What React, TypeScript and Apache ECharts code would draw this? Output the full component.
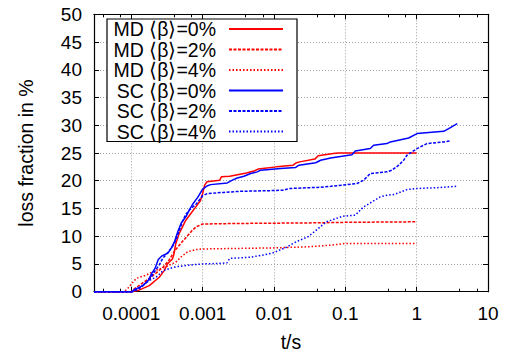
import React, { useEffect, useRef } from "react";
import * as echarts from "echarts";

// ---- data (t in seconds, loss fraction in %) ----
const seriesNames = [
  "MD \u27E8\u03B2\u27E9=0%",
  "MD \u27E8\u03B2\u27E9=2%",
  "MD \u27E8\u03B2\u27E9=4%",
  "SC \u27E8\u03B2\u27E9=0%",
  "SC \u27E8\u03B2\u27E9=2%",
  "SC \u27E8\u03B2\u27E9=4%",
];

const xTickValues = [1e-4, 1e-3, 1e-2, 1e-1, 1, 10];

const md0T = [3e-5, 1.0e-4, 1.236e-4, 1.79e-4, 2.466e-4, 2.89e-4, 3.21e-4, 3.77e-4, 3.97e-4, 4.19e-4, 4.66e-4, 5.18e-4, 5.75e-4, 6.75e-4, 7.93e-4, 9.29e-4, 1.0e-3, 1.067e-3, 1.148e-3, 1.734e-3, 1.832e-3, 2.4e-3, 4.11e-3, 5.37e-3, 5.98e-3, 1.084e-2, 1.853e-2, 2.07e-2, 2.3e-2, 3.74e-2, 4.16e-2, 6.76e-2, 7.94e-2, 1];
const md0V = [0, 0, 0.2, 1.1, 2.6, 3.8, 5.0, 5.9, 6.8, 8.6, 10.4, 11.6, 12.8, 14.0, 15.2, 16.4, 17.7, 19.2, 19.8, 20.1, 20.7, 20.8, 21.4, 21.8, 22.1, 22.5, 22.8, 23.25, 23.4, 23.9, 24.5, 24.9, 25.0, 25.0];

const md2T = [3e-5, 1e-4, 1.122e-4, 1.413e-4, 1.778e-4, 2.239e-4, 2.818e-4, 3.388e-4, 4.074e-4, 5.012e-4, 5.888e-4, 7.079e-4, 8.128e-4, 1e-3, 3.162e-3, 3.162e-2, 0.1, 1];
const md2V = [0, 0, 0.6, 1.5, 2.4, 3.4, 4.5, 5.7, 7.4, 8.8, 9.8, 11.0, 11.7, 12.2, 12.3, 12.4, 12.5, 12.6];

const md4T = [3e-5, 7.943e-5, 8.913e-5, 1.175e-4, 1.622e-4, 2.239e-4, 3.09e-4, 4.266e-4, 5.012e-4, 6.166e-4, 8.128e-4, 1e-3, 3.162e-3, 1e-2, 3.162e-2, 6.31e-2, 8.913e-2, 0.1, 1];
const md4V = [0, 0, 0.6, 2.4, 3.0, 3.9, 4.5, 5.4, 6.3, 7.2, 7.6, 7.7, 7.8, 7.9, 8.1, 8.4, 8.6, 8.7, 8.7];

const sc0T = [3e-5, 1.047e-4, 1.076e-4, 1.262e-4, 1.483e-4, 1.738e-4, 1.932e-4, 2.148e-4, 2.388e-4, 2.655e-4, 3.281e-4, 3.648e-4, 4.055e-4, 4.508e-4, 5.012e-4, 5.888e-4, 6.546e-4, 7.278e-4, 8.531e-4, 1e-3, 1.172e-3, 1.294e-3, 2.218e-3, 2.606e-3, 3.062e-3, 3.793e-3, 4.71e-3, 5.834e-3, 6.501e-3, 1.239e-2, 2.014e-2, 2.239e-2, 3.837e-2, 4.508e-2, 6.223e-2, 0.1239, 0.138, 0.2239, 0.2495, 0.3837, 0.4276, 0.7727, 1.012, 2.393, 2.812, 3.7];
const sc0V = [0, 0, 0.3, 0.73, 1.2, 2.1, 3.3, 4.2, 5.8, 6.4, 7.0, 7.9, 9.1, 10.9, 12.4, 13.6, 14.8, 15.8, 17.0, 18.5, 19.1, 19.3, 19.6, 20.1, 20.5, 20.8, 21.3, 21.6, 21.9, 22.2, 22.4, 22.8, 23.25, 23.7, 24.1, 24.7, 25.36, 25.8, 26.4, 26.7, 27.0, 27.7, 28.5, 28.9, 29.4, 30.3];

const sc2T = [3e-5, 1e-4, 1.259e-4, 1.585e-4, 1.778e-4, 2.089e-4, 2.455e-4, 2.754e-4, 3.236e-4, 3.802e-4, 4.266e-4, 4.677e-4, 5.248e-4, 5.754e-4, 6.607e-4, 8.128e-4, 1e-3, 1.175e-3, 1.995e-3, 3.412e-3, 8.072e-3, 1.38e-2, 1.622e-2, 4.074e-2, 6.31e-2, 0.1459, 0.1807, 0.2239, 0.3837, 0.4508, 0.5598, 0.6577, 0.7311, 0.861, 1.012, 1.396, 2.393, 2.965];
const sc2V = [0, 0, 0.5, 1.5, 2.1, 3.5, 4.8, 6.0, 7.0, 8.2, 9.4, 10.9, 12.7, 13.9, 14.8, 15.8, 17.3, 17.7, 17.9, 18.1, 18.2, 18.3, 18.6, 18.8, 19.0, 19.5, 20.1, 21.3, 21.6, 21.9, 22.8, 23.7, 24.6, 25.2, 25.8, 26.7, 27.0, 27.2];

const sc4T = [3e-5, 1e-4, 1.076e-4, 1.33e-4, 1.563e-4, 1.832e-4, 2.265e-4, 2.799e-4, 3.459e-4, 4.276e-4, 6.546e-4, 1e-3, 1.698e-3, 2.188e-3, 2.399e-3, 4.56e-3, 7.015e-3, 9.683e-3, 1.489e-2, 2.056e-2, 2.999e-2, 3.917e-2, 5.42e-2, 9.268e-2, 0.138, 0.1807, 0.2239, 0.309, 0.3837, 0.4764, 0.7311, 1.012, 1.928, 3.631];
const sc4V = [0, 0, 0.1, 0.6, 1.5, 2.1, 2.7, 3.8, 4.2, 4.5, 4.8, 5.0, 5.1, 5.2, 6.0, 6.2, 6.6, 7.0, 8.0, 9.0, 9.9, 11.1, 12.6, 13.6, 13.8, 15.3, 16.0, 17.1, 17.4, 17.5, 18.4, 18.6, 18.75, 19.0];

const allT = [md0T, md2T, md4T, sc0T, sc2T, sc4T];
const allV = [md0V, md2V, md4V, sc0V, sc2V, sc4V];
const colors = ["#ff0000", "#ff0000", "#ff0000", "#0000ff", "#0000ff", "#0000ff"];
const dashes: any[] = ["solid", [3, 1.5], [1.5, 2], "solid", [3, 1.5], [1.5, 2]];

const FONT = "'Liberation Sans', Arial, Helvetica, sans-serif";

function fmtTick(v: number): string {
  const e = Math.round(Math.log10(v));
  if (e >= 0) return String(Math.pow(10, e));
  return Math.pow(10, e).toFixed(-e);
}

export default function App() {
  const ref = useRef<HTMLDivElement>(null);
  useEffect(() => {
    if (!ref.current) return;
    const chart = echarts.init(ref.current, null, { renderer: "svg" });
    const axisLine = { show: true, onZero: false, lineStyle: { color: "#000", width: 1.2 } };
    const tick = { show: true, inside: true, length: 5, lineStyle: { color: "#000", width: 1 } };
    const minor = { show: true, splitNumber: 3, length: 3, lineStyle: { color: "#000", width: 1 } };
    const grid = { show: true, lineStyle: { color: "#a0a0a0", width: 1, type: [1, 2] } };
    const xBase: any = { type: "log", logBase: 10, min: 3e-5, max: 10 };
    const option: any = {
      animation: false,
      backgroundColor: "#fff",
      grid: { left: 94, right: 24, top: 14.3, bottom: 62.3, containLabel: false, outerBoundsMode: "none" },
      xAxis: [
        {
          ...xBase,
          position: "bottom",
          name: "t/s",
          nameLocation: "middle",
          nameGap: 40,
          nameTextStyle: { fontFamily: FONT, fontSize: 19.5, color: "#000" },
          axisLine,
          axisTick: tick,
          minorTick: minor,
          axisLabel: {
            formatter: fmtTick,
            showMinLabel: false,
            margin: 12,
            fontFamily: FONT,
            fontSize: 19,
            color: "#000",
          },
          splitLine: grid,
        },
        {
          ...xBase,
          position: "top",
          axisLine,
          axisTick: tick,
          minorTick: minor,
          axisLabel: { show: false },
          splitLine: { show: false },
        },
      ],
      yAxis: [
        {
          type: "value",
          min: 0,
          max: 50,
          interval: 5,
          position: "left",
          name: "loss fraction in %",
          nameLocation: "middle",
          nameGap: 58,
          nameRotate: 90,
          nameTextStyle: { fontFamily: FONT, fontSize: 19.5, color: "#000" },
          axisLine,
          axisTick: tick,
          axisLabel: { margin: 12, fontFamily: FONT, fontSize: 19, color: "#000" },
          splitLine: grid,
        },
        {
          type: "value",
          min: 0,
          max: 50,
          interval: 5,
          position: "right",
          axisLine,
          axisTick: tick,
          axisLabel: { show: false },
          splitLine: { show: false },
        },
      ],
      legend: {
        orient: "vertical",
        left: 107,
        top: 19,
        align: "right",
        itemWidth: 54,
        itemHeight: 14,
        itemGap: 0.5,
        padding: [0, 13, 0, 5],
        backgroundColor: "#fff",
        borderColor: "#000",
        borderWidth: 1.2,
        selectedMode: false,
        data: seriesNames,
        itemStyle: { opacity: 0 },
        formatter: (n: string) => `{a|${n}}`,
        textStyle: {
          fontFamily: FONT,
          fontSize: 19.5,
          color: "#000",
          lineHeight: 20,
          rich: {
            a: {
              width: 104,
              align: "right",
              padding: [0, 8, 0, 0],
              fontFamily: FONT,
              fontSize: 19.5,
              lineHeight: 20,
              color: "#000",
            },
          },
        },
      },
      series: seriesNames.map((name, i) => ({
        name,
        type: "line",
        xAxisIndex: 0,
        yAxisIndex: 0,
        symbol: "none",
        clip: false,
        data: allT[i].map((t, j) => [t, allV[i][j]]),
        itemStyle: { color: colors[i] },
        lineStyle: { color: colors[i], width: 1.5, type: dashes[i] },
      })),
    };
    chart.setOption(option);
    return () => chart.dispose();
  }, []);
  return (
    <div
      ref={ref}
      style={{ position: "fixed", left: 0, top: 0, width: 512, height: 354 }}
    />
  );
}
